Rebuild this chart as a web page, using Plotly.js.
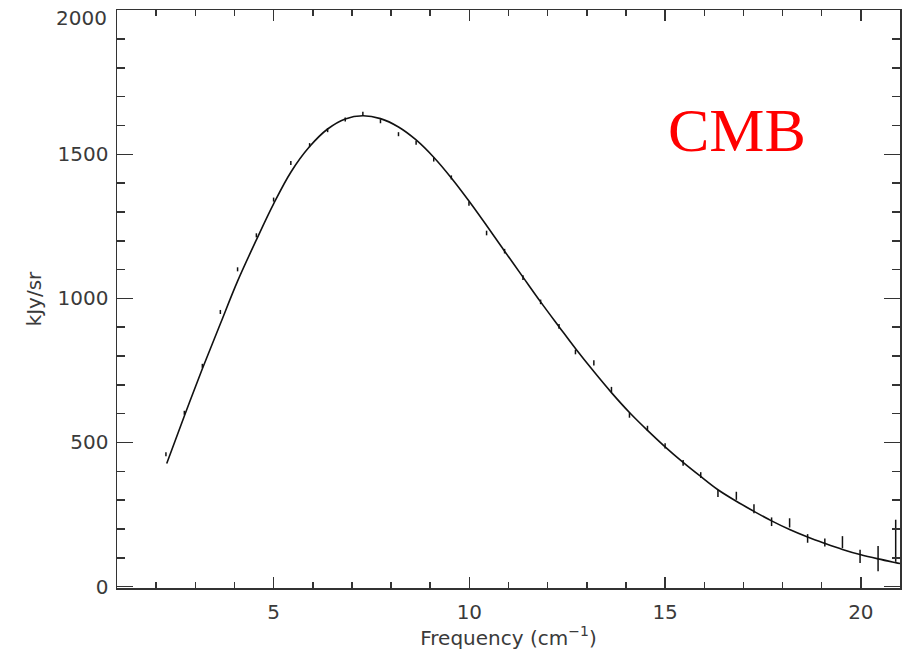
<!DOCTYPE html>
<html>
<head>
<meta charset="utf-8">
<script src="https://cdn.plot.ly/plotly-3.0.1.min.js"></script>
<style>html,body{margin:0;padding:0;background:#fff;}#chart{width:909px;height:656px;}</style>
</head>
<body>
<div id="chart"></div>
<script>
// Measured data points (frequency in cm^-1, intensity in kJy/sr, error half-length)
const dataFreq = [2.25, 2.72, 3.18, 3.64, 4.08, 4.56, 5.00, 5.44, 5.92, 6.38, 6.83, 7.28, 7.73,
  8.19, 8.64, 9.09, 9.54, 9.99, 10.44, 10.90, 11.37, 11.82, 12.29, 12.71, 13.18, 13.63, 14.09,
  14.55, 15.00, 15.46, 15.91, 16.35, 16.82, 17.27, 17.72, 18.18, 18.64, 19.08, 19.53, 19.98,
  20.44, 20.89];
const dataInt = [459, 603, 766, 953, 1101, 1219, 1343, 1470, 1532, 1584, 1621, 1641, 1615,
  1570, 1540, 1482, 1420, 1329, 1227, 1164, 1072, 988, 903, 814, 776, 684, 595,
  549, 488, 429, 387, 323, 315, 270, 225, 221, 167, 153, 154, 105,
  97, 159];
const dataErr = [7, 7, 7, 7, 7, 7, 7, 7, 7, 7, 7, 7, 7,
  7, 7, 7, 7, 7, 8, 8, 8, 8, 8, 8, 9, 9, 9,
  9, 9, 10, 10, 12, 14, 16, 15, 16, 15, 14, 21, 23,
  44, 73];

// Fitted blackbody curve
const curveFreq = [2.27, 2.72, 3.18, 3.64, 4.08, 4.56, 5.00, 5.44, 5.92, 6.38, 6.83,
  7.28, 7.73, 8.19, 8.64, 9.09, 9.54, 9.99, 10.44, 10.90, 11.37, 11.82, 12.29, 12.71, 13.18,
  13.63, 14.09, 14.55, 15.00, 15.46, 15.91, 16.35, 16.82, 17.27, 17.72, 18.18, 18.64, 19.08,
  19.53, 19.98, 20.44, 20.89, 21.00];
const curveInt = [427, 592, 756, 912, 1060, 1203, 1328, 1438, 1527, 1588, 1623,
  1634, 1624, 1595, 1550, 1490, 1418, 1338, 1253, 1164, 1074, 988, 902, 826, 746,
  673, 604, 542, 485, 431, 382, 336, 296, 261, 228, 198, 172, 150,
  129, 111, 96, 83, 80];

const xTickVals = [5, 10, 15, 20];
const yTickVals = [0, 500, 1000, 1500, 2000];
const yTickLabels = ['0', '500', '1000', '1500', '2000'];

const axisColor = '#333';
const tickFont = {family: 'DejaVu Sans', size: 20, color: '#3a3a3a'};

const traces = [
  {
    x: curveFreq, y: curveInt, type: 'scatter', mode: 'lines',
    line: {color: '#111', width: 1.6, shape: 'spline', smoothing: 1},
    hoverinfo: 'skip', showlegend: false
  },
  {
    x: dataFreq, y: dataInt, type: 'scatter', mode: 'markers',
    marker: {size: 1, color: 'rgba(0,0,0,0)'},
    error_y: {type: 'data', array: dataErr, visible: true, color: '#111', thickness: 1.5, width: 0},
    showlegend: false
  }
];

// The top label sits just inside the figure, as in the original
const lastIdx = yTickVals.length - 1;
const yTickText = yTickLabels.map((t, i) => (i === lastIdx ? '' : t));

const layout = {
  width: 909, height: 656,
  margin: {l: 117, r: 9, t: 10, b: 68},
  paper_bgcolor: '#fff', plot_bgcolor: '#fff',
  showlegend: false,
  xaxis: {
    range: [1, 21], tickmode: 'array', tickvals: xTickVals,
    ticks: 'inside', ticklen: 11, tickwidth: 1.5, tickcolor: axisColor,
    minor: {dtick: 1, tick0: 0, ticks: 'inside', ticklen: 6, tickwidth: 1.5, tickcolor: axisColor, showgrid: false},
    showline: true, linecolor: axisColor, linewidth: 1.5, mirror: 'ticks',
    showgrid: false, zeroline: false, ticklabeloverflow: 'allow',
    tickfont: tickFont, ticklabelstandoff: 5,
    title: {text: 'Frequency (cm<sup>−1</sup>)', font: {family: 'DejaVu Sans', size: 20, color: '#3a3a3a'}, standoff: 4}
  },
  yaxis: {
    range: [-5, 2001], tickmode: 'array', tickvals: yTickVals, ticktext: yTickText,
    ticks: 'inside', ticklen: 16, tickwidth: 1.5, tickcolor: axisColor,
    minor: {dtick: 100, tick0: 0, ticks: 'inside', ticklen: 8, tickwidth: 1.5, tickcolor: axisColor, showgrid: false},
    showline: true, linecolor: axisColor, linewidth: 1.5, mirror: 'ticks',
    showgrid: false, zeroline: false, ticklabeloverflow: 'allow',
    tickfont: tickFont, ticklabelstandoff: 3,
    title: {text: 'kJy/sr', font: {family: 'DejaVu Sans', size: 20, color: '#3a3a3a'}, standoff: 10}
  },
  annotations: [
    {
      text: 'CMB', xref: 'paper', yref: 'paper', x: 0.792, y: 0.793,
      xanchor: 'center', yanchor: 'middle', showarrow: false,
      font: {family: 'Liberation Serif', size: 62, color: '#ff0000'}
    },
    {
      text: yTickLabels[lastIdx], xref: 'paper', yref: 'y', x: 0, y: yTickVals[lastIdx],
      xanchor: 'right', yanchor: 'middle', xshift: -8, yshift: -8, showarrow: false,
      font: tickFont
    }
  ]
};

Plotly.newPlot('chart', traces, layout, {staticPlot: true, displayModeBar: false});
</script>
</body>
</html>
